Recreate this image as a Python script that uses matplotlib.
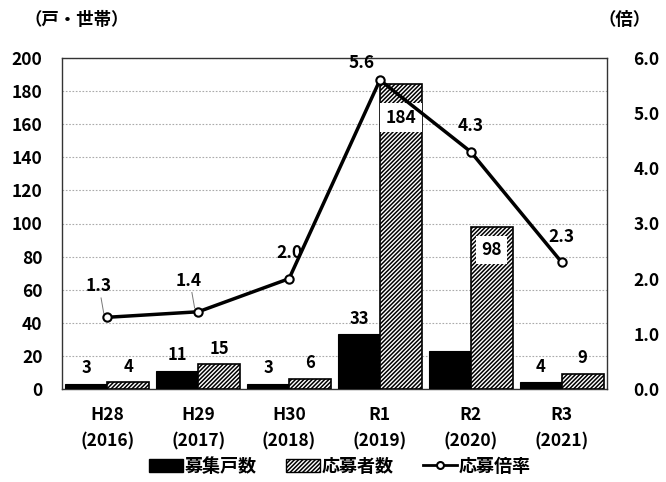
import matplotlib
matplotlib.use("Agg")
import matplotlib.pyplot as plt
import numpy as np
from matplotlib.lines import Line2D
from matplotlib.patches import Patch

plt.rcParams['font.family'] = ['Noto Sans CJK JP', 'DejaVu Sans']
plt.rcParams['font.weight'] = 'bold'
plt.rcParams['hatch.linewidth'] = 1.1

categories = ["H28\n(2016)", "H29\n(2017)", "H30\n(2018)", "R1\n(2019)", "R2\n(2020)", "R3\n(2021)"]
boshu = [3, 11, 3, 33, 23, 4]
boshu_labels = ["3", "11", "3", "33", "", "4"]
oubo = [4, 15, 6, 184, 98, 9]
bairitsu = [1.3, 1.4, 2.0, 5.6, 4.3, 2.3]

fig = plt.figure(figsize=(6.66, 4.82), dpi=100)
ax = fig.add_axes([62/666, 1-389/482, 545/666, 331/482])
ax2 = ax.twinx()

x = np.arange(len(categories))
w = 0.4625
ax.bar(x - w/2, boshu, w, color='black', edgecolor='black', linewidth=0.8, zorder=3)
ax.bar(x + w/2, oubo, w, color='white', edgecolor='black', hatch='////////', linewidth=1.2, zorder=3)

ax.set_xlim(-0.5, len(categories) - 0.5)
ax.set_ylim(0, 200)
ax.set_yticks(np.arange(0, 201, 20))
ax.set_xticks(x)
ax.set_xticklabels(categories, fontsize=12.5, fontweight='bold', linespacing=1.65)
ax.tick_params(axis='x', length=0, pad=12)
ax.tick_params(axis='y', length=0, labelsize=12.5, pad=14)
for lab in ax.get_yticklabels():
    lab.set_fontweight('bold')
ax.yaxis.grid(True, linestyle=(0, (1.5, 1.5)), color='#aaaaaa', linewidth=0.8, zorder=0)
ax.set_axisbelow(True)
for s in ax.spines.values():
    s.set_color('#333333')
    s.set_linewidth(1.0)

# bar labels
for i in range(len(x)):
    if boshu_labels[i]:
        ax.text(x[i] - w/2, boshu[i] + 4, boshu_labels[i], ha='center', va='bottom', fontsize=12, fontweight='bold', zorder=5)
inner_offsets = {3: 20, 4: 14}
for i in range(len(x)):
    if i in inner_offsets:
        ax.text(x[i] + w/2, oubo[i] - inner_offsets[i], str(oubo[i]), ha='center', va='center', fontsize=12.5, fontweight='bold', zorder=6,
                bbox=dict(boxstyle='square,pad=0.3', fc='white', ec='none'))
    else:
        ax.text(x[i] + w/2, oubo[i] + 4, str(oubo[i]), ha='center', va='bottom', fontsize=12, fontweight='bold', zorder=5)

ax2.plot(x, bairitsu, color='black', linewidth=2.5, marker='o', markersize=6,
         markerfacecolor='white', markeredgecolor='black', markeredgewidth=1.5, zorder=4)
ax2.set_ylim(0, 6.0)
ax2.set_yticks(np.arange(0, 6.01, 1.0))
ax2.set_yticklabels([f"{v:.1f}" for v in np.arange(0, 6.01, 1.0)])
ax2.tick_params(axis='y', length=0, labelsize=12.5, pad=19)
for lab in ax2.get_yticklabels():
    lab.set_fontweight('bold')
for s in ax2.spines.values():
    s.set_visible(False)

label_offsets = [(-0.1, 0.4), (-0.1, 0.4), (0, 0.3), (-0.2, 0.15), (0, 0.3), (0, 0.3)]
leaders = [True, True, False, False, False, False]
for i in range(len(x)):
    dx, dy = label_offsets[i]
    ax2.text(x[i] + dx, bairitsu[i] + dy, f"{bairitsu[i]:.1f}", ha='center', va='bottom', fontsize=12.5, fontweight='bold', zorder=6)
    if leaders[i]:
        ax2.plot([x[i] + dx + 0.03, x[i] - 0.04], [bairitsu[i] + dy - 0.05, bairitsu[i] + 0.07],
                 color='#777777', linewidth=0.7, zorder=3)

ax2.set_zorder(ax.get_zorder() + 1)
ax2.patch.set_visible(False)
ax.patch.set_facecolor('white')

fig.text(24/666, 1-20/482, "（戸・世帯）", ha='left', va='center', fontsize=12.5, fontweight='bold')
fig.text(598/666, 1-20/482, "（倍）", ha='left', va='center', fontsize=12.5, fontweight='bold')

handles = [Patch(facecolor='black', edgecolor='black'),
           Patch(facecolor='white', edgecolor='black', hatch='////////'),
           Line2D([0], [0], color='black', lw=2, marker='o', markersize=5, markerfacecolor='white', markeredgewidth=1.5)]
leg = fig.legend(handles, ["募集戸数", "応募者数", "応募倍率"], loc='center', bbox_to_anchor=(0.51, 1-466/482),
                 ncol=3, frameon=False, fontsize=13, handlelength=1.9, handleheight=0.7, handletextpad=0.1, columnspacing=1.6)
for t in leg.get_texts():
    t.set_fontweight('bold')

fig.savefig("out.png", dpi=100, facecolor='white')
